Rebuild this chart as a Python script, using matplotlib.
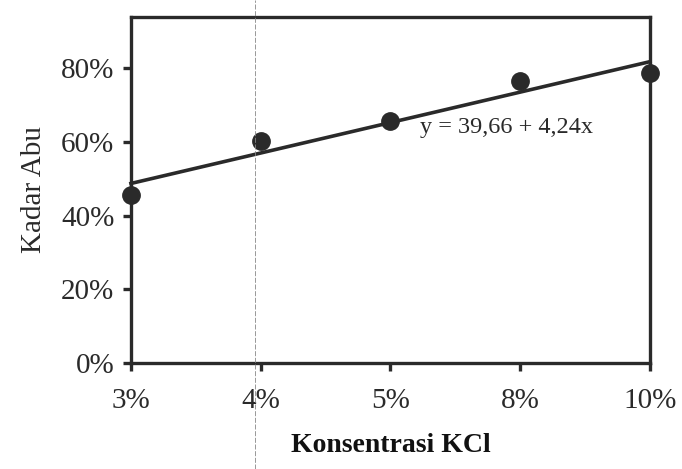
import numpy as np
import matplotlib.pyplot as plt
from matplotlib.lines import Line2D

plt.rcParams['font.family'] = ['Liberation Serif', 'DejaVu Serif']

labels = ['3%', '4%', '5%', '8%', '10%']
kadar_abu = [45.5, 60.2, 65.6, 76.5, 78.7]
equation = 'y = 39,66 + 4,24x'

ink = '#2a2a2a'
x = np.arange(1, len(labels) + 1)

fig = plt.figure(figsize=(6.82, 4.69), dpi=100)
ax = fig.add_axes([0.192, 0.226, 0.761, 0.738])

ax.plot(x, kadar_abu, 'o', color=ink, ms=12.5, clip_on=False, zorder=4)
fit = np.poly1d(np.polyfit(x, kadar_abu, 1))
ax.plot(x, fit(x), '-', color=ink, lw=2.6, clip_on=False, zorder=3)

ax.text(3.23, 61.0, equation, fontsize=17.5, color=ink, va='bottom')

ax.set_xlim(1, 5)
ax.set_ylim(0, 94)
ax.set_xticks(x)
ax.set_xticklabels(labels)
ax.set_yticks(np.arange(0, 81, 20))
ax.set_yticklabels([f'{v}%' for v in range(0, 81, 20)])
ax.tick_params(direction='out', length=6, width=2.4, colors=ink, labelsize=21)
ax.tick_params(axis='x', pad=12)
ax.tick_params(axis='y', pad=6)
for s in ax.spines.values():
    s.set_linewidth(2.4)
    s.set_color(ink)

ax.set_xlabel('Konsentrasi KCl', fontsize=20, fontweight='bold', color='#111111', labelpad=14)
ax.set_ylabel('Kadar Abu', fontsize=21, color=ink, labelpad=10)

# faint scan line
fig.add_artist(Line2D([0.374, 0.374], [0, 1], color='#888888', lw=0.6, ls=(0, (6, 2))))

fig.savefig('out.png', dpi=100)
